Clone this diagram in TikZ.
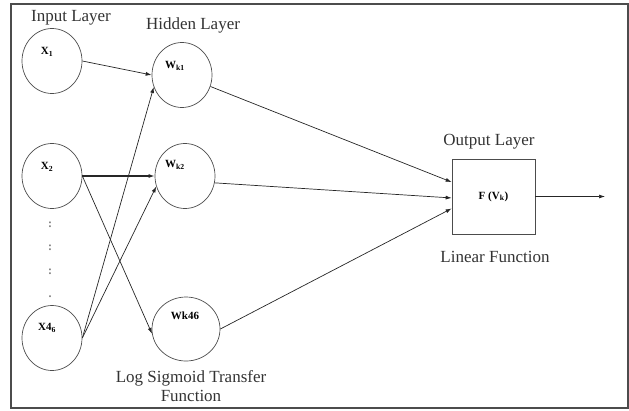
\documentclass[tikz,border=0pt]{standalone}
\usepackage{fontspec}
\setmainfont{Liberation Serif}
\usepackage{tikz}
\usetikzlibrary{arrows.meta,shapes.geometric}
\usetikzlibrary{calc}

\begin{document}
\begin{tikzpicture}[
  x=1pt, y=-1pt,
  neuron/.style={draw=black!70, ellipse, minimum width=60pt, minimum height=65pt, inner sep=0pt, line width=0.7pt},
  inlbl/.style={font=\fontsize{11}{12}\selectfont\bfseries},
  layer/.style={font=\fontsize{17}{19}\selectfont, text=black!80},
  arr/.style={-{Latex[length=6pt,width=4pt]}, line width=0.7pt, draw=black!85}
]
  \useasboundingbox (0,0) rectangle (629,410);
  \draw[line width=1.8pt, draw=black!70] (11,4) rectangle (628,408);

  % input layer
  \node[neuron, label={[inlbl, xshift=-5pt, yshift=9pt]center:X\textsubscript{1}}] (x1) at (52,61) {};
  \node[neuron, label={[inlbl, xshift=-5pt, yshift=9pt]center:X\textsubscript{2}}] (x2) at (52,176) {};
  \node[neuron, label={[inlbl, xshift=-5pt, yshift=10pt]center:X4\textsubscript{6}}] (x46) at (52,338) {};
  \foreach \yy/\dd [count=\i] in {225/:, 248/:, 272/:, 297/.}
    \node[font=\fontsize{12}{12}\selectfont\bfseries, text=black!50] (dots\i) at (50,\yy) {\dd};

  % hidden layer
  \node[neuron, label={[inlbl, xshift=-7pt, yshift=9pt]center:W\textsubscript{k1}}] (wk1) at (182,75) {};
  \node[neuron, label={[inlbl, xshift=-10pt, yshift=11pt]center:W\textsubscript{k2}}] (wk2) at (185,176) {};
  \node[neuron, minimum width=68pt, minimum height=64pt, label={[inlbl, xshift=-1pt, yshift=13pt]center:Wk46}] (wk46) at (186,329) {};

  % output layer
  \node[draw=black!70, line width=0.7pt, minimum width=83pt, minimum height=75pt, font=\fontsize{11}{12}\selectfont\bfseries] (out) at (493.5,196.5) {F (V\textsubscript{k})};
  \coordinate (res) at (605,196.5);

  % labels
  \node[layer] (inlayer) at (71,18) {Input Layer};
  \node[layer] (hidlayer) at (193,25) {Hidden Layer};
  \node[layer] (outlayer) at (489,142) {Output Layer};
  \node[layer] (linfn) at (495,257) {Linear Function};
  \node[layer, align=center] (logfn) at (191,386) {Log Sigmoid Transfer\\Function};

  % connections
  \draw[arr] (x1.east) -- (wk1.west);
  \draw[arr, line width=1.3pt] (x2.east) -- (wk2.west);
  \draw[arr] (x2.east) -- (wk46.188);
  \draw[arr] (x46.east) -- (wk1.203);
  \draw[arr] (x46.east) -- (wk2.200);

  \draw[arr] (wk1.-22) -- (out.161);
  \draw[arr] (wk2.-13) -- (out.182);
  \draw[arr] (wk46.east) -- (out.196);
  \draw[arr] (out.east) -- (res);
\end{tikzpicture}
\end{document}
